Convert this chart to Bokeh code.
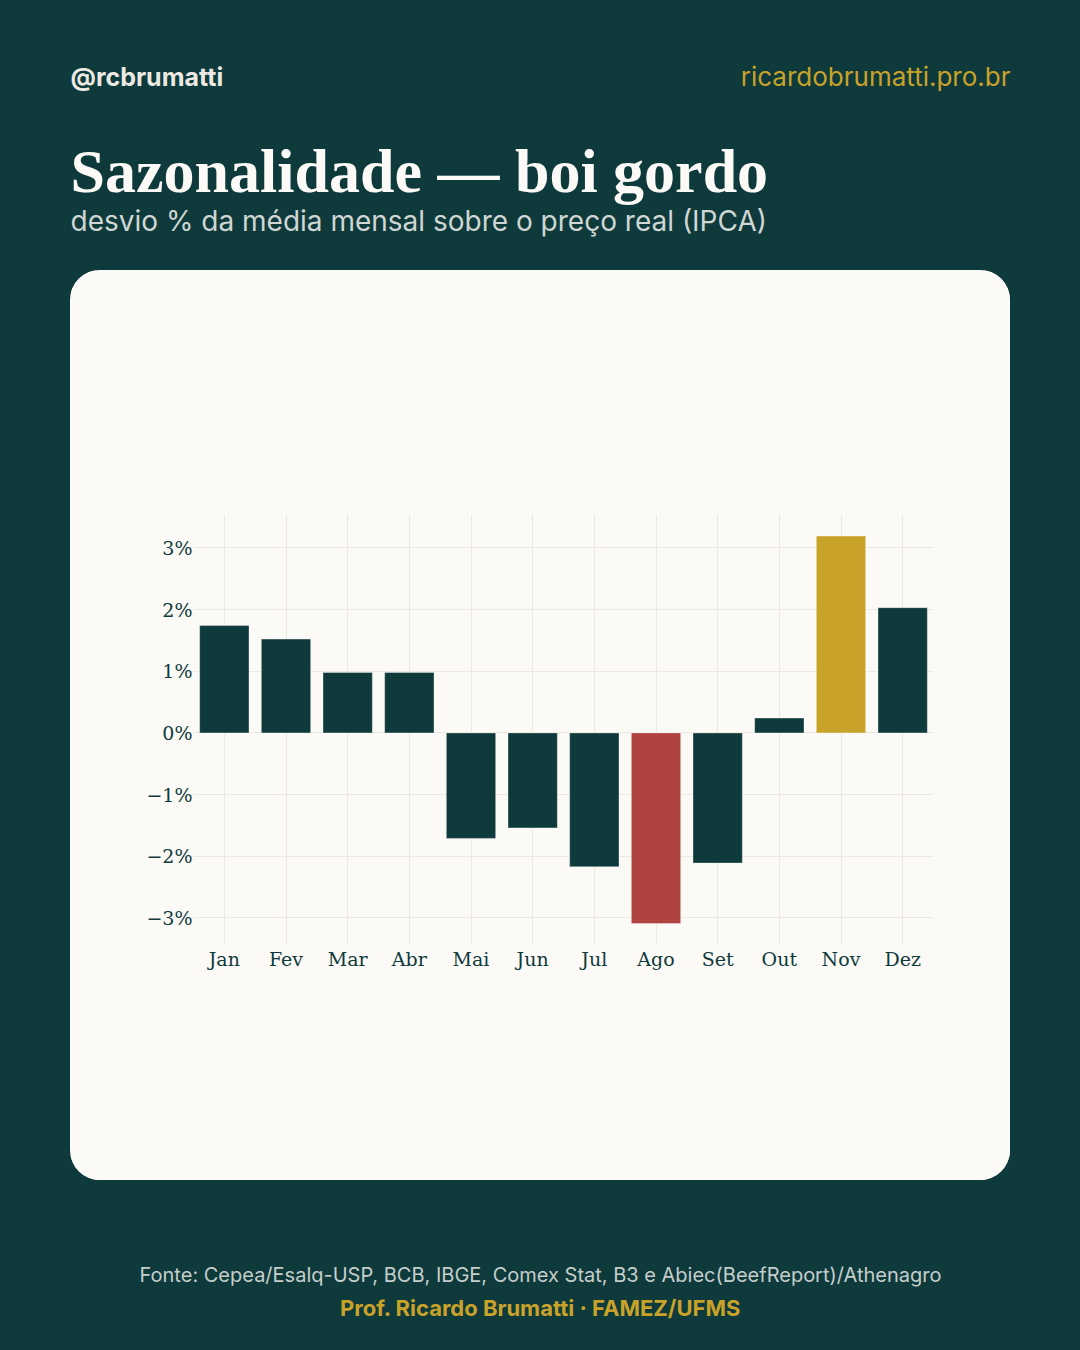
from bokeh.plotting import figure
from bokeh.layouts import column, row
from bokeh.models import (Range1d, FactorRange, FixedTicker, CustomJSTickFormatter,
                          Label, ColumnDataSource, Spacer)
from bokeh.embed import file_html
from bokeh.resources import INLINE

# ---- data ----
months = ["Jan", "Fev", "Mar", "Abr", "Mai", "Jun", "Jul", "Ago", "Set", "Out", "Nov", "Dez"]
desvio = [1.74, 1.52, 0.98, 0.98, -1.71, -1.54, -2.17, -3.09, -2.11, 0.24, 3.19, 2.03]
y_ticks = [-3, -2, -1, 0, 1, 2, 3]

# ---- style ----
BG = "#0e3a3c"
CARD = "#fbfaf6"
TEAL = "#0f3a3c"
GOLD = "#c9a229"
RED = "#b04240"
GRID = "#ece9e0"

W, H = 1080, 1350
CARD_L, CARD_R, CARD_T, CARD_B = 70, 1010, 270, 1180
FL, FR, FT, FB = 193, 933, 514, 944  # plot frame edges on the page

# ---- chart card ----
vmax, vmin = max(desvio), min(desvio)
colors = [GOLD if v == vmax else RED if v == vmin else TEAL for v in desvio]
src = ColumnDataSource(dict(m=months, v=desvio, c=colors))

p = figure(width=CARD_R - CARD_L, height=CARD_B - CARD_T,
           x_range=FactorRange(*months), y_range=Range1d(-3.43, 3.54),
           output_backend="svg", toolbar_location=None,
           min_border_left=FL - CARD_L, min_border_right=CARD_R - FR,
           min_border_top=FT - CARD_T, min_border_bottom=CARD_B - FB,
           styles={"background-color": CARD, "border-radius": "30px", "overflow": "hidden"})
p.border_fill_color = CARD
p.background_fill_color = CARD
p.outline_line_color = None

p.vbar(x="m", top="v", bottom=0, width=0.8, color="c", line_color=CARD, line_width=0.6, line_alpha=0.6,
       source=src)

for ax in (p.xaxis[0], p.yaxis[0]):
    ax.axis_line_color = None
    ax.major_tick_line_color = None
    ax.minor_tick_line_color = None
    ax.major_label_text_font = "DejaVu Serif"
    ax.major_label_text_font_size = "19px"
    ax.major_label_text_color = TEAL
p.yaxis[0].ticker = FixedTicker(ticks=y_ticks)
p.yaxis[0].formatter = CustomJSTickFormatter(code="return (tick < 0 ? '\u2212' : '') + Math.abs(tick) + '%';")
p.yaxis[0].major_label_standoff = -5
p.xaxis[0].major_label_standoff = -3

p.xgrid.grid_line_color = GRID
p.ygrid.grid_line_color = GRID

# ---- header / footer panels (text only) ----
def panel(h):
    f = figure(width=W, height=h, x_range=Range1d(0, W), y_range=Range1d(h, 0),
               output_backend="svg", toolbar_location=None, min_border=0,
               x_axis_location=None, y_axis_location=None)
    f.grid.visible = False
    f.outline_line_color = None
    f.border_fill_color = BG
    f.background_fill_color = BG
    return f

def lab(f, text, x, y, size, color, font="Inter", style="normal", align="left"):
    # y is the wanted baseline; the flipped range places text ~0.36em lower
    f.add_layout(Label(x=x, y=y - 0.36 * size, text=text, text_font=font, text_font_size=f"{size}px",
                       text_color=color, text_font_style=style, text_align=align,
                       text_baseline="alphabetic"))

head = panel(CARD_T)
lab(head, "@rcbrumatti", 70, 85, 25, "#ece9e2", style="bold")
lab(head, "ricardobrumatti.pro.br", 1010, 85, 26, GOLD, align="right")
lab(head, "Sazonalidade — boi gordo", 70, 193, 62, "#fbfaf6", font="Liberation Serif", style="bold")
lab(head, "desvio % da média mensal sobre o preço real (IPCA)", 70, 231, 28, "#cfd6d3")

foot = panel(H - CARD_B)
lab(foot, "Fonte: Cepea/Esalq-USP, BCB, IBGE, Comex Stat, B3 e Abiec(BeefReport)/Athenagro", 540, 1282 - CARD_B,
    20, "#c5cecb", align="center")
lab(foot, "Prof. Ricardo Brumatti · FAMEZ/UFMS", 540, 1315 - CARD_B, 22, GOLD, style="bold", align="center")

mid = row(Spacer(width=CARD_L, height=CARD_B - CARD_T), p, Spacer(width=W - CARD_R, height=CARD_B - CARD_T),
          styles={"background-color": BG})
layout = column(head, mid, foot, styles={"background-color": BG})

open("out.html", "w").write(file_html(layout, INLINE))
